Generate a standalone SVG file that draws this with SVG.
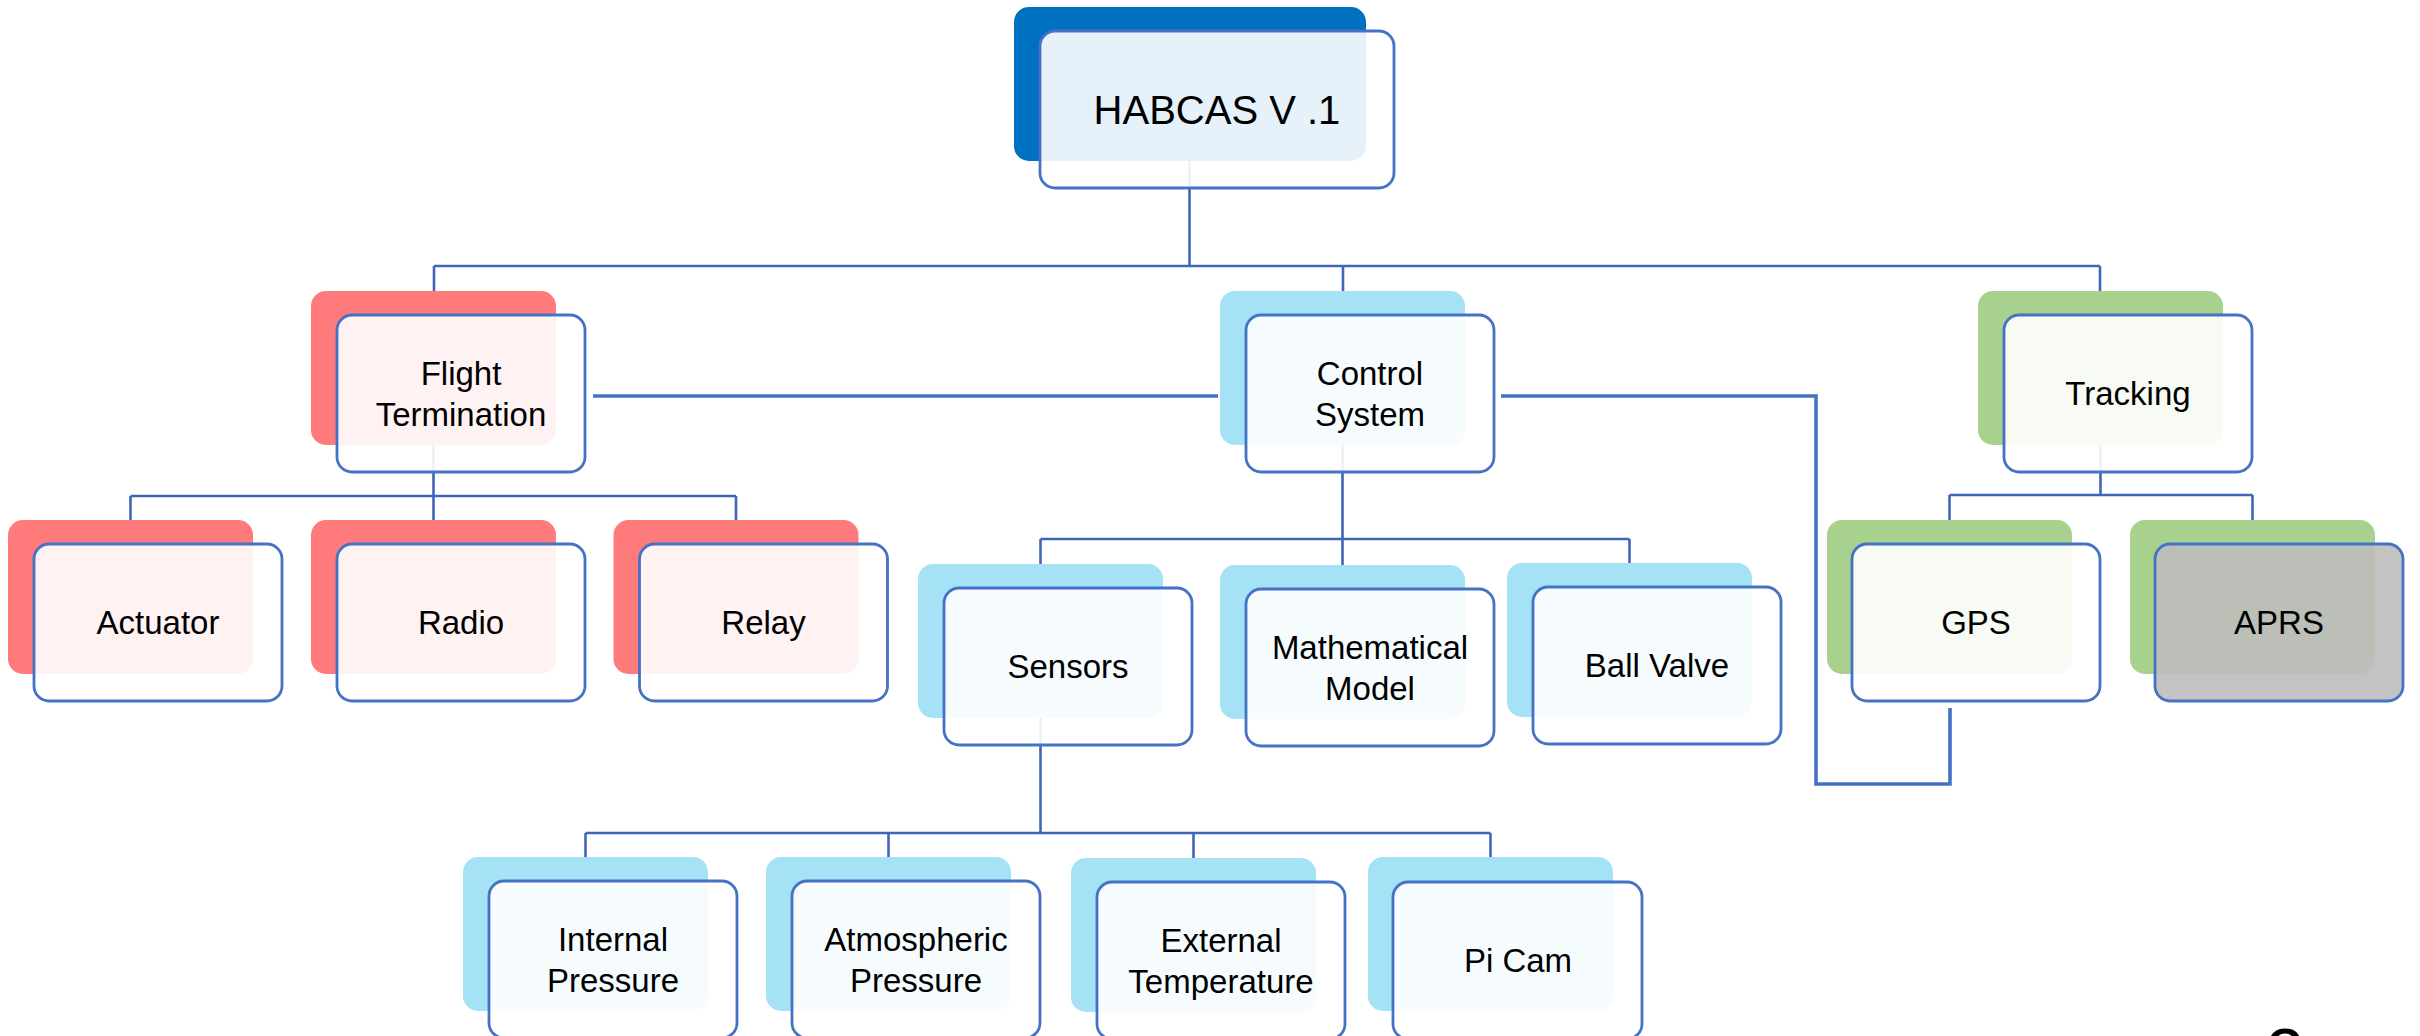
<svg xmlns="http://www.w3.org/2000/svg" width="2420" height="1036" viewBox="0 0 2420 1036">
<style>
.sh{stroke:none}
.blue{fill:#0070C0}
.red{fill:#FF7A7B}
.cyan{fill:#A5E2F6}
.green{fill:#A9D18E}
.fr{fill:#FFFFFF;fill-opacity:0.9;stroke:#4472C4;stroke-width:2.8}
.gray{fill:#BCBCBC}
.ln{fill:none;stroke:#4066B8;stroke-width:2.6}
.xl{fill:none;stroke:#4472C4;stroke-width:3.6}
text{font-family:"Liberation Sans",Arial,sans-serif;font-size:33px;fill:#000;text-anchor:middle}
.title{font-size:40px}
</style>
<rect width="2420" height="1036" fill="#FFFFFF"/>
<g id="connectors">
<path class="ln" d="M1189.5,100 V266 M434,266 H2100 M434,266 V291 M1343,266 V291 M2100,266 V291"/>
<path class="ln" d="M433.5,400 V496 M130.5,496 H736 M130.5,496 V520 M433.5,496 V520 M736,496 V520"/>
<path class="ln" d="M1342.5,400 V539 M1040.5,539 H1629.5 M1040.5,539 V564 M1342.5,539 V565 M1629.5,539 V563"/>
<path class="ln" d="M2100.5,400 V495 M1949.5,495 H2252.5 M1949.5,495 V520 M2252.5,495 V520"/>
<path class="ln" d="M1040.5,700 V833 M585.5,833 H1490.5 M585.5,833 V857 M888.5,833 V857 M1193.5,833 V858 M1490.5,833 V857"/>
<path class="xl" d="M593,396 H1218"/>
<path class="xl" d="M1501,396 H1816 V784 H1950 V708"/>
</g>
<g id="habcas">
<rect class="sh blue" x="1014" y="7" width="352" height="154" rx="15"/>
<rect class="fr" x="1040" y="31" width="354" height="157" rx="15"/>
<text class="title" x="1217" y="124">HABCAS V .1</text>
</g>
<g id="flight-termination">
<rect class="sh red" x="311" y="291" width="245" height="154" rx="15"/>
<rect class="fr" x="337" y="315" width="248" height="157" rx="15"/>
<text x="461" y="385">Flight</text>
<text x="461" y="426">Termination</text>
</g>
<g id="control-system">
<rect class="sh cyan" x="1220" y="291" width="245" height="154" rx="15"/>
<rect class="fr" x="1246" y="315" width="248" height="157" rx="15"/>
<text x="1370" y="385">Control</text>
<text x="1370" y="426">System</text>
</g>
<g id="tracking">
<rect class="sh green" x="1978" y="291" width="245" height="154" rx="15"/>
<rect class="fr" x="2004" y="315" width="248" height="157" rx="15"/>
<text x="2128" y="405">Tracking</text>
</g>
<g id="actuator">
<rect class="sh red" x="8" y="520" width="245" height="154" rx="15"/>
<rect class="fr" x="34" y="544" width="248" height="157" rx="15"/>
<text x="158" y="634">Actuator</text>
</g>
<g id="radio">
<rect class="sh red" x="311" y="520" width="245" height="154" rx="15"/>
<rect class="fr" x="337" y="544" width="248" height="157" rx="15"/>
<text x="461" y="634">Radio</text>
</g>
<g id="relay">
<rect class="sh red" x="613.5" y="520" width="245" height="154" rx="15"/>
<rect class="fr" x="639.5" y="544" width="248" height="157" rx="15"/>
<text x="763.5" y="634">Relay</text>
</g>
<g id="sensors">
<rect class="sh cyan" x="918" y="564" width="245" height="154" rx="15"/>
<rect class="fr" x="944" y="588" width="248" height="157" rx="15"/>
<text x="1068" y="678">Sensors</text>
</g>
<g id="mathematical-model">
<rect class="sh cyan" x="1220" y="565" width="245" height="154" rx="15"/>
<rect class="fr" x="1246" y="589" width="248" height="157" rx="15"/>
<text x="1370" y="659">Mathematical</text>
<text x="1370" y="700">Model</text>
</g>
<g id="ball-valve">
<rect class="sh cyan" x="1507" y="563" width="245" height="154" rx="15"/>
<rect class="fr" x="1533" y="587" width="248" height="157" rx="15"/>
<text x="1657" y="677">Ball Valve</text>
</g>
<g id="gps">
<rect class="sh green" x="1827" y="520" width="245" height="154" rx="15"/>
<rect class="fr" x="1852" y="544" width="248" height="157" rx="15"/>
<text x="1976" y="634">GPS</text>
</g>
<g id="aprs">
<rect class="sh green" x="2130" y="520" width="245" height="154" rx="15"/>
<rect class="fr gray" x="2155" y="544" width="248" height="157" rx="15"/>
<text x="2279" y="634">APRS</text>
</g>
<g id="internal-pressure">
<rect class="sh cyan" x="463" y="857" width="245" height="154" rx="15"/>
<rect class="fr" x="489" y="881" width="248" height="157" rx="15"/>
<text x="613" y="951">Internal</text>
<text x="613" y="992">Pressure</text>
</g>
<g id="atmospheric-pressure">
<rect class="sh cyan" x="766" y="857" width="245" height="154" rx="15"/>
<rect class="fr" x="792" y="881" width="248" height="157" rx="15"/>
<text x="916" y="951">Atmospheric</text>
<text x="916" y="992">Pressure</text>
</g>
<g id="external-temperature">
<rect class="sh cyan" x="1071" y="858" width="245" height="154" rx="15"/>
<rect class="fr" x="1097" y="882" width="248" height="157" rx="15"/>
<text x="1221" y="952">External</text>
<text x="1221" y="993">Temperature</text>
</g>
<g id="pi-cam">
<rect class="sh cyan" x="1368" y="857" width="245" height="154" rx="15"/>
<rect class="fr" x="1393" y="882" width="249" height="157" rx="15"/>
<text x="1518" y="972">Pi Cam</text>
</g>
<text x="2285" y="1078" style="font-size:70px">2</text>
</svg>
